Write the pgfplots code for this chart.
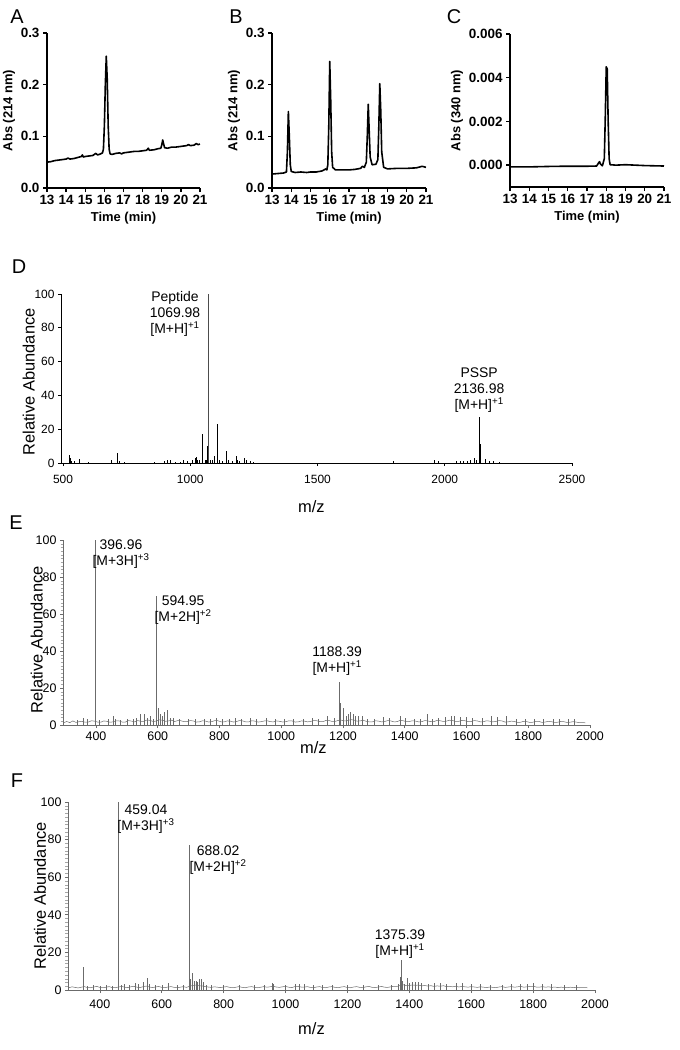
\documentclass[border=0pt]{standalone}
\usepackage{fontspec}
\setmainfont{Liberation Sans}
\usepackage{pgfplots}
\pgfplotsset{compat=1.18}
\definecolor{specgray}{rgb}{0.42,0.42,0.42}
\tikzset{ann/.style={font=\fontsize{14}{16}\selectfont, align=center, inner sep=0pt},
 plab/.style={font=\fontsize{20}{20}\selectfont, anchor=center}}
\pgfplotsset{
 chrom/.style={
  scale only axis, anchor=south west, clip=false,
  xmin=13, xmax=21, xtick={13,...,21},
  axis x line=bottom, axis y line=left,
  axis line style={-, line width=1.5bp},
  tick style={line width=1.3bp, black},
  major tick length=4bp, tick align=outside,
  ticklabel style={font=\fontsize{13.5}{14}\selectfont\bfseries},
  label style={font=\fontsize{13}{14}\selectfont\bfseries},
  xlabel={Time (min)}, ylabel style={yshift=-1bp},
  scaled y ticks=false,
  /pgf/number format/assume math mode=true,
 },
 trace/.style={black, line width=1.6bp, no markers, line join=round},
 spec/.style={
  scale only axis, anchor=south west, clip=false,
  ymin=0, ymax=100, ytick={0,20,...,100},
  axis x line=bottom, axis y line=left,
  tick align=outside, major tick length=3bp,
  ticklabel style={font=\fontsize{12.5}{13}\selectfont},
  label style={font=\fontsize{16.5}{17}\selectfont},
  xlabel={m/z}, ylabel={Relative Abundance},
  /pgf/number format/assume math mode=true,
  /pgf/number format/1000 sep={},
 },
}
\begin{document}
\begin{tikzpicture}
\path[use as bounding box] (0,0) rectangle (680bp,-1050bp);
\node[plab] at (17bp,-17bp) {A};
\node[plab] at (236bp,-17bp) {B};
\node[plab] at (454bp,-17bp) {C};
\node[plab] at (19bp,-267bp) {D};
\node[plab] at (16bp,-523bp) {E};
\node[plab] at (17bp,-781bp) {F};

% ---------------- A
\begin{axis}[chrom, at={(47bp,-188bp)}, width=153bp, height=155bp,
 ymin=0, ymax=0.3, ytick={0,0.1,0.2,0.3},
 yticklabel style={/pgf/number format/.cd, fixed, fixed zerofill, precision=1},
 ylabel={Abs (214 nm)}]
\addplot[trace] coordinates {
(13.0,0.050)(13.2,0.051)(13.4,0.053)(13.6,0.054)(13.8,0.055)(14.0,0.056)(14.1,0.058)(14.2,0.056)
(14.4,0.057)(14.6,0.059)(14.8,0.061)(14.85,0.064)(14.9,0.060)(15.0,0.061)(15.2,0.062)(15.4,0.063)
(15.55,0.067)(15.65,0.064)(15.8,0.066)(15.9,0.068)(15.95,0.075)(16.0,0.12)(16.05,0.20)(16.1,0.255)
(16.15,0.21)(16.2,0.12)(16.25,0.075)(16.3,0.066)(16.4,0.065)(16.6,0.067)(16.8,0.068)(16.9,0.066)
(17.0,0.068)(17.2,0.069)(17.4,0.070)(17.6,0.071)(17.8,0.071)(18.0,0.072)(18.2,0.073)(18.3,0.077)
(18.35,0.073)(18.6,0.074)(18.8,0.076)(18.95,0.077)(19.0,0.083)(19.05,0.093)(19.1,0.085)(19.15,0.078)
(19.3,0.077)(19.5,0.079)(19.7,0.079)(19.9,0.080)(20.1,0.081)(20.3,0.082)(20.4,0.084)(20.5,0.082)
(20.7,0.083)(20.8,0.086)(20.9,0.084)(21.0,0.085)};
\end{axis}

% ---------------- B
\begin{axis}[chrom, at={(272bp,-188bp)}, width=154bp, height=155bp,
 ymin=0, ymax=0.3, ytick={0,0.1,0.2,0.3},
 yticklabel style={/pgf/number format/.cd, fixed, fixed zerofill, precision=1},
 ylabel={Abs (214 nm)}]
\addplot[trace] coordinates {
(13.0,0.027)(13.3,0.028)(13.6,0.029)(13.75,0.031)(13.8,0.07)(13.85,0.148)(13.9,0.10)(13.95,0.045)
(14.0,0.032)(14.2,0.030)(14.5,0.031)(14.8,0.030)(15.0,0.031)(15.3,0.031)(15.6,0.033)(15.8,0.037)
(15.85,0.035)(15.9,0.045)(15.95,0.12)(16.0,0.245)(16.05,0.17)(16.1,0.07)(16.15,0.040)(16.3,0.035)
(16.6,0.035)(17.0,0.035)(17.3,0.036)(17.6,0.038)(17.7,0.042)(17.8,0.040)(17.9,0.05)(17.95,0.10)
(18.0,0.162)(18.05,0.11)(18.1,0.06)(18.2,0.045)(18.4,0.046)(18.5,0.055)(18.55,0.12)(18.6,0.202)
(18.65,0.15)(18.7,0.07)(18.8,0.040)(19.0,0.037)(19.5,0.038)(20.0,0.038)(20.5,0.039)(20.8,0.042)(21.0,0.040)};
\end{axis}

% ---------------- C
\begin{axis}[chrom, at={(510bp,-187bp)}, width=154bp, height=153bp,
 ymin=-0.001, ymax=0.006, ytick={0,0.002,0.004,0.006},
 yticklabel style={/pgf/number format/.cd, fixed, fixed zerofill, precision=3},
 ylabel={Abs (340 nm)}]
\addplot[trace] coordinates {
(13.0,-0.00008)(14.0,-0.00008)(15.0,-0.00006)(15.8,-0.00005)(16.5,-0.00005)(17.0,-0.00005)
(17.5,-0.00004)(17.6,0.0001)(17.65,0.00016)(17.7,0.00005)(17.8,-0.00003)(17.9,0.0003)(17.95,0.0022)
(18.0,0.0045)(18.05,0.0044)(18.1,0.0020)(18.15,0.0003)(18.2,0.00002)(18.5,0.0000)(19.0,0.00002)
(19.5,0.0000)(20.0,-0.00002)(21.0,-0.00004)};
\end{axis}

% ---------------- D
\begin{axis}[spec, at={(61bp,-463bp)}, width=511bp, height=169bp,
 xmin=492, xmax=2500, xtick={500,1000,...,2500},
 axis line style={-, line width=1bp}, tick style={line width=1bp, black},
 ticklabel style={font=\fontsize{12}{12}\selectfont},
 xticklabel style={yshift=-6bp},
 xlabel style={at={(axis description cs:0.49,0)}, anchor=center, yshift=-44bp},
 ylabel style={at={(axis description cs:-0.063,0.48)}, anchor=center}]
\addplot[ycomb, black, line width=0.9bp, no markers] coordinates {
(525,4.5)(528,3)(532,1)(545,1.2)(563,2.5)(600,0.5)(690,2)(714,6)(720,1)(740,0.5)(860,0.5)
(900,1)(912,2)(921,2)(940,0.8)(960,0.8)(975,1.5)(990,1)(1010,1.5)(1020,3)(1024,3.5)(1030,2)
(1035,1.5)(1046,17)(1049,11)(1060,1.5)(1062,2)(1066,10)(1072,53)(1080,1.5)(1088,1.5)(1095,4)
(1105,23)(1108,13)(1115,1.5)(1125,1)(1142,7)(1150,1.5)(1165,1)(1180,4)(1185,2)(1195,1)(1214,3)
(1220,1.5)(1235,1)(1250,0.8)(1800,1)(1960,1.5)(1975,1)(2045,1)(2060,1)(2075,1.2)(2090,1.2)
(2100,1.5)(2115,3)(2125,2)(2136.98,27)(2140,11)(2160,2.5)(2175,1)(2190,1)(2215,0.8)};
\addplot[ycomb, black!70, line width=0.6bp, no markers] coordinates {(1069.98,100)};
\node[ann, anchor=east] at (axis cs:1040,88) {Peptide\\1069.98\\{}[M+H]\textsuperscript{+1}};
\node[ann] at (axis cs:2135,43) {PSSP\\2136.98\\{}[M+H]\textsuperscript{+1}};
\end{axis}

% ---------------- E
\begin{axis}[spec, at={(63bp,-725bp)}, width=527bp, height=185bp,
 xmin=293, xmax=2000, xtick={400,600,...,2000},
 axis line style={-, specgray, line width=0.8bp},
 major tick style={line width=0.7bp, specgray},
 minor tick style={line width=0.4bp, specgray!60}, minor tick length=2.5bp,
 minor y tick num=9,
 xlabel style={at={(axis description cs:0.475,0)}, anchor=center, yshift=-23bp},
 ylabel style={at={(axis description cs:-0.05,0.46)}, anchor=center}]
\addplot[specgray, line width=0.5bp, no markers] coordinates {
(295,1.2)(305,1.9)(315,1.3)(325,2.2)(335,1.4)(345,1.8)(355,2.0)(365,1.5)(375,1.6)(385,2.3)(395,2.1)(405,1.6)
(415,1.5)(425,2.2)(435,2.0)(445,1.5)(455,1.7)(465,2.3)(475,2.2)(485,1.6)(495,1.6)(505,2.4)(515,2.1)(525,1.7)
(535,2.4)(545,2.0)(555,2.0)(565,2.7)(575,2.5)(585,1.9)(595,2.1)(605,2.8)(615,2.6)(625,2.0)(635,2.2)(645,2.6)
(655,1.9)(665,2.4)(675,2.3)(685,1.8)(695,1.8)(705,2.4)(715,2.2)(725,1.6)(735,1.7)(745,2.3)(755,2.1)(765,1.6)
(775,1.8)(785,2.4)(795,2.3)(805,1.7)(815,1.7)(825,2.2)(835,2.1)(845,1.6)(855,1.9)(865,2.4)(875,2.2)(885,1.7)
(895,1.7)(905,2.3)(915,2.1)(925,1.6)(935,1.8)(945,2.2)(955,2.3)(965,1.8)(975,1.7)(985,2.2)(995,2.0)(1005,1.6)
(1015,1.8)(1025,2.3)(1035,2.2)(1045,1.6)(1055,1.7)(1065,2.2)(1075,2.1)(1085,1.7)(1095,1.9)(1105,2.4)(1115,2.3)
(1125,1.8)(1135,1.8)(1145,2.5)(1155,2.4)(1165,1.9)(1175,2.0)(1185,2.5)(1195,2.6)(1205,2.2)(1215,2.4)(1225,2.9)
(1235,2.7)(1245,2.1)(1255,2.2)(1265,2.6)(1275,2.0)(1285,1.7)(1295,1.7)(1305,2.3)(1315,2.1)(1325,1.7)(1335,1.9)
(1345,2.4)(1355,2.2)(1365,1.7)(1375,1.8)(1385,2.5)(1395,2.3)(1405,1.8)(1415,1.9)(1425,2.3)(1435,2.1)(1445,1.7)
(1455,1.8)(1465,2.4)(1475,2.2)(1485,1.8)(1495,1.9)(1505,2.5)(1515,2.3)(1525,1.9)(1535,2.1)(1545,2.6)(1555,2.4)
(1565,1.9)(1575,2.0)(1585,2.5)(1595,2.3)(1605,1.8)(1615,1.9)(1625,2.4)(1635,2.2)(1645,1.7)(1655,1.8)(1665,2.3)
(1675,2.1)(1685,1.7)(1695,1.9)(1705,2.4)(1715,2.2)(1725,1.6)(1735,1.7)(1745,2.1)(1755,1.9)(1765,1.4)(1775,1.5)
(1785,2.0)(1795,1.8)(1805,1.4)(1815,1.5)(1825,2.0)(1835,1.9)(1845,1.4)(1855,1.6)(1865,2.0)(1875,1.8)(1885,1.4)
(1895,1.5)(1905,1.9)(1915,1.8)(1925,1.4)(1935,1.5)(1945,1.8)(1955,1.6)(1965,1.3)(1975,1.3)(1985,1.2)};
\addplot[ycomb, specgray, line width=0.5bp, no markers] coordinates {
(340,2.5)(358,4)(372,3)(396.96,100)(410,2.5)(440,3.5)(455,5)(462,3)(480,2.5)(500,3)(520,3)
(530,4)(543,6)(555,6)(565,4)(575,5)(585,3)(594.95,70)(601,9)(607,6)(615,5)(620,7)(630,8)
(640,4)(650,4)(670,3)(700,3.5)(720,3)(750,3.5)(770,3)(790,4)(810,3)(830,3.5)(850,4)(870,3)
(900,4)(920,3.5)(950,4)(980,3)(1010,3)(1040,3.5)(1070,3)(1100,4)(1120,3.5)(1150,5)(1170,4)
(1188.39,23)(1191,12)(1200,9)(1210,5)(1218,6)(1225,7)(1232,6)(1240,5)(1250,5)(1262,5)(1280,3.5)
(1300,3)(1330,4.5)(1350,4)(1385,5)(1400,4)(1430,3.5)(1450,3.5)(1473,6)(1490,3.5)(1510,4)
(1530,4.5)(1550,5)(1560,5)(1580,4.5)(1600,4.5)(1620,4)(1650,4)(1680,5)(1700,4.5)(1730,5)
(1760,3)(1790,3.5)(1820,3.5)(1850,3.5)(1880,3)(1900,3.5)(1930,3)(1950,3)};
\node[ann] at (axis cs:481,92.4) {396.96\\{}[M+3H]\textsuperscript{+3}};
\node[ann] at (axis cs:682,62.2) {594.95\\{}[M+2H]\textsuperscript{+2}};
\node[ann] at (axis cs:1181,34.6) {1188.39\\{}[M+H]\textsuperscript{+1}};
\end{axis}

% ---------------- F
\begin{axis}[spec, at={(68bp,-990bp)}, width=527bp, height=188bp,
 xmin=297, xmax=2000, xtick={400,600,...,2000},
 axis line style={-, specgray, line width=0.8bp},
 major tick style={line width=0.7bp, specgray},
 minor tick style={line width=0.4bp, specgray!60}, minor tick length=2.5bp,
 minor y tick num=9,
 xticklabel style={yshift=-3bp},
 xlabel style={at={(axis description cs:0.462,0)}, anchor=center, yshift=-39bp},
 ylabel style={at={(axis description cs:-0.053,0.5)}, anchor=center}]
\addplot[specgray, line width=0.5bp, no markers] coordinates {
(300,1.2)(310,1.7)(320,1.4)(330,1.1)(340,1.5)(350,1.8)(360,1.3)(370,1.2)(380,1.6)(390,1.9)(400,1.4)
(410,1.2)(420,1.5)(430,1.8)(440,1.3)(450,1.2)(460,1.6)(470,1.9)(480,1.5)(490,1.3)(500,1.7)(510,2.0)
(520,1.5)(530,1.3)(540,1.8)(550,2.1)(560,1.6)(570,1.3)(580,1.6)(590,1.9)(600,1.4)(610,1.2)(620,1.6)
(630,1.8)(640,1.4)(650,1.2)(660,1.5)(670,1.8)(680,1.4)(690,2.0)(700,2.4)(710,2.6)(720,2.3)(730,2.2)
(740,1.8)(750,1.6)(760,1.4)(770,1.7)(780,1.5)(790,1.3)(800,1.6)(810,1.8)(820,1.4)(830,1.2)(840,1.5)
(850,1.8)(860,1.4)(870,1.2)(880,1.6)(890,1.8)(900,1.4)(910,1.2)(920,1.5)(930,1.8)(940,1.5)(950,1.7)
(960,2.0)(970,1.6)(980,1.4)(990,1.7)(1000,1.9)(1010,1.5)(1020,1.3)(1030,1.8)(1040,2.0)(1050,1.6)
(1060,1.5)(1070,1.8)(1080,1.4)(1090,1.2)(1100,1.6)(1110,1.8)(1120,1.3)(1130,1.2)(1140,1.6)(1150,1.8)
(1160,1.4)(1170,1.2)(1180,1.6)(1190,1.8)(1200,1.3)(1210,1.2)(1220,1.6)(1230,1.8)(1240,1.4)(1250,1.3)
(1260,1.7)(1270,1.9)(1280,1.4)(1290,1.3)(1300,1.6)(1310,1.9)(1320,1.5)(1330,1.4)(1340,1.7)(1350,2.0)
(1360,1.9)(1370,2.4)(1380,2.8)(1390,2.3)(1400,2.4)(1410,2.7)(1420,2.5)(1430,2.6)(1440,2.2)(1450,2.4)
(1460,2.1)(1470,2.3)(1480,1.9)(1490,2.2)(1500,2.0)(1510,2.3)(1520,1.8)(1530,2.0)(1540,1.7)(1550,2.0)
(1560,1.6)(1570,1.9)(1580,1.7)(1590,1.5)(1600,1.8)(1610,1.6)(1620,1.4)(1630,1.7)(1640,1.5)(1650,1.3)
(1660,1.6)(1670,1.4)(1680,1.3)(1690,1.6)(1700,1.8)(1710,1.4)(1720,1.6)(1730,1.8)(1740,1.5)(1750,1.7)
(1760,1.9)(1770,1.5)(1780,1.7)(1790,1.9)(1800,2.0)(1810,1.6)(1820,1.5)(1830,1.8)(1840,1.5)(1850,1.7)
(1860,1.4)(1870,1.6)(1880,1.3)(1890,1.5)(1900,1.4)(1910,1.2)(1920,1.5)(1930,1.3)(1940,1.4)(1950,1.2)
(1960,1.3)(1975,1.2)};
\addplot[ycomb, specgray, line width=0.5bp, no markers] coordinates {
(345,12)(360,2)(380,2.5)(400,2)(420,2.5)(440,2)(459.04,100)(470,2.5)(480,3)(495,2.5)(513,3.5)
(525,3)(540,4)(552,6.5)(560,3)(580,2.5)(600,2.5)(620,3.5)(650,2.5)(670,2.5)(688.02,77)(692,6)
(700,9)(705,5)(710,5)(715,4.5)(720,6)(727,6)(735,4)(745,2.5)(760,2.5)(800,2.5)(850,2.5)(900,2.5)
(930,2.5)(956,3.5)(960,3)(1000,2.5)(1030,3)(1045,3)(1060,3)(1090,2.5)(1120,2.5)(1150,2.5)
(1200,2.5)(1250,2.5)(1300,2.5)(1340,2.5)(1365,3)(1372,7)(1375.39,16)(1378,5)(1385,3)(1392,6.5)
(1400,3.5)(1410,4)(1420,4.5)(1430,4.5)(1440,3.5)(1460,3)(1480,3.5)(1500,3.5)(1520,3)(1550,3.5)
(1570,3.5)(1600,3)(1630,3)(1660,2.5)(1700,2.5)(1730,3)(1760,3)(1780,3)(1802,3.5)(1830,3)
(1860,3)(1900,2.5)(1940,2.5)};
\node[ann] at (axis cs:549,91) {459.04\\{}[M+3H]\textsuperscript{+3}};
\node[ann] at (axis cs:782,69) {688.02\\{}[M+2H]\textsuperscript{+2}};
\node[ann] at (axis cs:1370,24.5) {1375.39\\{}[M+H]\textsuperscript{+1}};
\end{axis}
\end{tikzpicture}
\end{document}
